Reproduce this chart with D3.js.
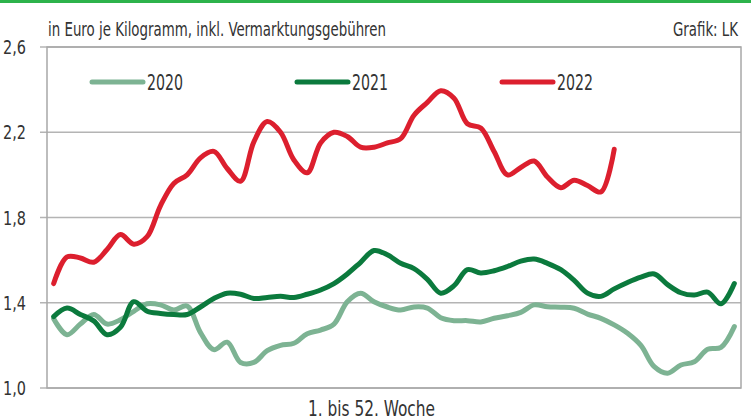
<!DOCTYPE html>
<html>

<head>
  <meta charset='utf-8'>
  <script src="https://cdn.jsdelivr.net/npm/d3@7/dist/d3.min.js"></script>
  <style type="text/css">
    body {
      margin: 0;
      background: #fff;
    }

    text {
      font-family: "Liberation Sans Narrow", "Arial Narrow", "DejaVu Sans Condensed", sans-serif;
      font-stretch: condensed;
      fill: #333;
    }

    .line {
      fill: none;
      stroke-width: 5;
      stroke-linecap: round;
      stroke-linejoin: round;
    }
  </style>
</head>

<body>
  <script>
    let w = 751
    let h = 419
    let margin = { top: 47, right: 10, bottom: 31, left: 47 }

    // Woche 1 bis 52
    let weeks = d3.range(1, 53)
    let years = ['2020', '2021', '2022']
    let colors = ['#7db393', '#0b7a3d', '#dc1f2e']
    let yTicks = [1.0, 1.4, 1.8, 2.2, 2.6]

    let v2020 = [1.325, 1.25, 1.30, 1.345, 1.30, 1.32, 1.36, 1.395, 1.39, 1.366,
      1.385, 1.26, 1.18, 1.215, 1.12, 1.12, 1.175, 1.20, 1.21, 1.255,
      1.272, 1.30, 1.405, 1.445, 1.405, 1.38, 1.366, 1.38, 1.375, 1.33,
      1.316, 1.316, 1.31, 1.327, 1.339, 1.355, 1.39, 1.381, 1.379, 1.374,
      1.347, 1.327, 1.296, 1.257, 1.20, 1.10, 1.069, 1.108, 1.123, 1.182,
      1.191, 1.288]
    let v2021 = [1.335, 1.375, 1.345, 1.315, 1.25, 1.285, 1.405, 1.36, 1.35, 1.345,
      1.345, 1.38, 1.42, 1.445, 1.44, 1.42, 1.425, 1.43, 1.425, 1.44,
      1.46, 1.49, 1.535, 1.59, 1.645, 1.625, 1.585, 1.56, 1.51, 1.445,
      1.48, 1.555, 1.54, 1.55, 1.57, 1.595, 1.605, 1.585, 1.555, 1.505,
      1.445, 1.43, 1.465, 1.495, 1.52, 1.535, 1.485, 1.447, 1.436, 1.45,
      1.395, 1.49]
    let v2022 = [1.49, 1.615, 1.61, 1.59, 1.65, 1.72, 1.675, 1.71, 1.855, 1.96,
      2.0, 2.08, 2.11, 2.03, 1.97, 2.155, 2.25, 2.2, 2.07, 2.01,
      2.15, 2.2, 2.18, 2.13, 2.13, 2.15, 2.17, 2.28, 2.34, 2.395,
      2.36, 2.24, 2.22, 2.11, 2.0, 2.035, 2.065, 1.99, 1.94, 1.975,
      1.95, 1.92, 2.12]
    let series = [v2020, v2021, v2022]

    // schmale Schrift nachbilden
    let fit = (sel, width) => sel.attr('textLength', width).attr('lengthAdjust', 'spacingAndGlyphs')

    let svg = d3.select('body')
      .append('svg')
      .attr('width', w)
      .attr('height', h);

    // gruener Balken oben
    svg.append('rect')
      .attr('x', 0).attr('y', 0)
      .attr('width', w).attr('height', 3)
      .attr('fill', '#2db34b')

    let xScale = d3.scalePoint()
      .domain(weeks)
      .range([margin.left, w - margin.right])
      .padding(0.5)

    let yScale = d3.scaleLinear()
      .domain([1.0, 2.6])
      .range([h - margin.bottom, margin.top])

    // Gitter
    svg.append('g')
      .selectAll('line')
      .data(yTicks)
      .enter()
      .append('line')
      .attr('x1', margin.left - 7)
      .attr('x2', w - margin.right)
      .attr('y1', d => yScale(d))
      .attr('y2', d => yScale(d))
      .attr('stroke', '#b4b4b4')
      .attr('stroke-width', 1.5)

    // Rahmen
    svg.append('rect')
      .attr('x', margin.left)
      .attr('y', margin.top)
      .attr('width', w - margin.right - margin.left)
      .attr('height', h - margin.bottom - margin.top)
      .attr('fill', 'none')
      .attr('stroke', '#a8a8a8')
      .attr('stroke-width', 1.5)

    let fmt = d => d3.format('.1f')(d).replace('.', ',')

    svg.append('g')
      .selectAll('text')
      .data(yTicks)
      .enter()
      .append('text')
      .attr('x', 3)
      .attr('y', d => yScale(d) + 7)
      .style('font-size', '19px')
      .text(fmt)
      .call(fit, 23)

    let line = d3.line()
      .x((d, i) => xScale(weeks[i]))
      .y(d => yScale(d))
      .curve(d3.curveCatmullRom)

    svg.append('g')
      .selectAll('path')
      .data(series)
      .enter()
      .append('path')
      .attr('class', 'line')
      .attr('stroke', (d, i) => colors[i])
      .attr('d', line)

    // Legende
    let legendX = [92, 297, 502]
    let legend = svg.append('g')
      .selectAll('g')
      .data(years)
      .enter()
      .append('g')
      .attr('transform', (d, i) => 'translate(' + legendX[i] + ',82)')
    legend.append('line')
      .attr('x1', 0).attr('x2', 51)
      .attr('stroke', (d, i) => colors[i])
      .attr('stroke-width', 5)
      .attr('stroke-linecap', 'round')
    legend.append('text')
      .attr('x', 55)
      .attr('y', 8)
      .style('font-size', '22px')
      .text(d => d)
      .call(fit, 36)

    svg.append('text')
      .attr('x', 48)
      .attr('y', 36)
      .style('font-size', '19px')
      .text('in Euro je Kilogramm, inkl. Vermarktungsgebühren')
      .call(fit, 338)

    svg.append('text')
      .attr('x', 673)
      .attr('y', 36)
      .style('font-size', '19px')
      .text('Grafik: LK')
      .call(fit, 65)

    svg.append('text')
      .attr('x', 308)
      .attr('y', 416)
      .style('font-size', '21px')
      .text('1. bis 52. Woche')
      .call(fit, 127)
  </script>
</body>

</html>
